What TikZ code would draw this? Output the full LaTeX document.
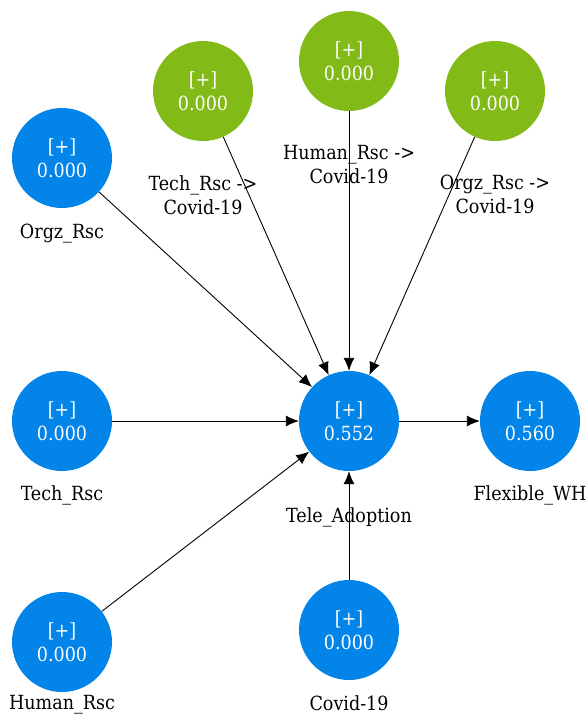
\documentclass[tikz,border=0pt]{standalone}
\usepackage{fontspec}
\setmainfont{DejaVu Serif Condensed}
\usepackage{tikz}
\usetikzlibrary{arrows.meta}
\usetikzlibrary{positioning}

\definecolor{lvblue}{RGB}{2,132,233}
\definecolor{lvgreen}{RGB}{130,186,24}

\begin{document}
\begin{tikzpicture}[x=1pt, y=-1pt, font=\fontsize{19.5}{24}\selectfont,
        lvnode/.style={circle, fill=lvblue, text=white, minimum size = 100pt, inner sep=0pt, align=center},
        modnode/.style={lvnode, fill=lvgreen},
        lvlabel/.style={align=center, inner sep=2pt},
        path/.style={-{Latex[length=13pt, width=11pt]}, line width=0.9pt}]
        \useasboundingbox (0,0) rectangle (587,715);

        % latent variables
        \node[lvnode] (orgz) at (62,158) {[+]\\0.000};
        \node[lvnode] (tech) at (62,421) {[+]\\0.000};
        \node[lvnode] (human) at (62,642) {[+]\\0.000};
        \node[lvnode] (tele) at (349,421) {[+]\\0.552};
        \node[lvnode] (flex) at (530,421) {[+]\\0.560};
        \node[lvnode] (covid) at (349,630) {[+]\\0.000};

        % moderating effects
        \node[modnode] (techmod) at (203,91) {[+]\\0.000};
        \node[modnode] (humanmod) at (349,61) {[+]\\0.000};
        \node[modnode] (orgzmod) at (495,91) {[+]\\0.000};

        % names
        \node[lvlabel] (orgzname) [below=14pt of orgz] {Orgz\_Rsc};
        \node[lvlabel] (techname) [below=12pt of tech] {Tech\_Rsc};
        \node[lvlabel] (humanname) [below=1pt of human] {Human\_Rsc};
        \node[lvlabel] (telename) [below=34pt of tele] {Tele\_Adoption};
        \node[lvlabel] (flexname) [below=12pt of flex] {Flexible\_WH};
        \node[lvlabel] (covidname) [below=13pt of covid] {Covid-19};
        \node[lvlabel] (techmodname) [below=32pt of techmod] {Tech\_Rsc ->\\Covid-19};
        \node[lvlabel] (humanmodname) [below=32pt of humanmod] {Human\_Rsc ->\\Covid-19};
        \node[lvlabel] (orgzmodname) [below=32pt of orgzmod] {Orgz\_Rsc ->\\Covid-19};

        \draw[path] (orgz) -- (tele);
        \draw[path] (tech) -- (tele);
        \draw[path] (human) -- (tele);
        \draw[path] (covid) -- (tele);
        \draw[path] (techmod) -- (tele);
        \draw[path] (humanmod) -- (tele);
        \draw[path] (orgzmod) -- (tele);
        \draw[path] (tele) -- (flex);
    \end{tikzpicture}
\end{document}
